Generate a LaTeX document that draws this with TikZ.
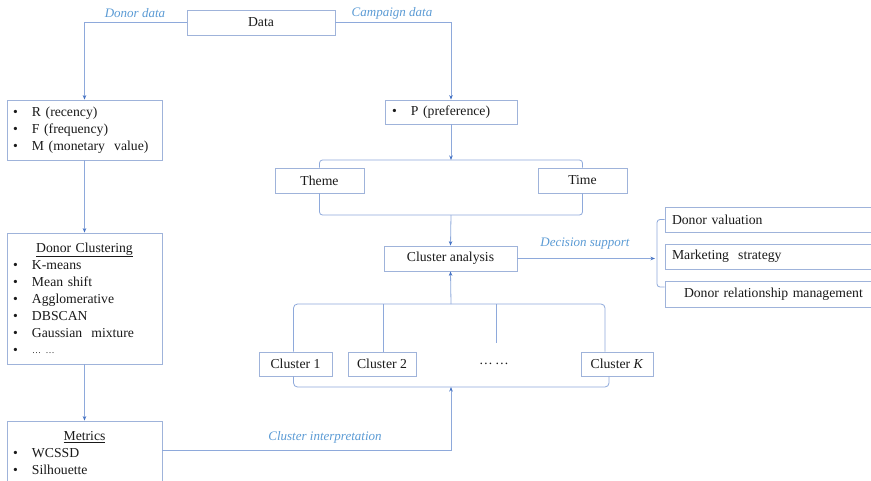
\documentclass[tikz,border=0pt]{standalone}
\usepackage{fontspec}
\setmainfont{Liberation Serif}
\usetikzlibrary{arrows.meta,calc}
\definecolor{ln}{HTML}{8EA9DB}
\definecolor{bx}{HTML}{9FB3DA}
\definecolor{lab}{HTML}{5B9BD5}
\definecolor{ah}{HTML}{4472C4}
\definecolor{tx}{HTML}{1A1A1A}
\newcommand{\bul}[1][19pt]{\makebox[#1][l]{\textbullet}}
\begin{document}
\begin{tikzpicture}[x=1pt,y=-1pt,
  font=\fontsize{13.7}{17}\selectfont,
  box/.style={draw=bx, line width=0.8pt, inner sep=0pt, text=tx},
  lbox/.style={box, align=left, inner xsep=6pt},
  conn/.style={draw=ln, line width=0.8pt},
  arr/.style={conn, -{Stealth[length=4.5pt,width=3.5pt,color=ah]}},
  lbl/.style={font=\fontsize{13}{15}\selectfont\itshape, text=lab, inner sep=1pt}]
\useasboundingbox (0,0) rectangle (871,480);
\fill[white] (0,0) rectangle (871,480);
\clip (0,0) rectangle (871,480);

% nodes
\node[box, minimum width=148pt, minimum height=25pt] (data) at (261,22.5) {Data};
\node[lbox, text width=143pt, minimum height=60pt] (rfm) at (84.5,130)
  {\bul R (recency)\\ \bul F (frequency)\\ \bul M (monetary\ \ value)};
\node[box, text width=118pt, align=left, inner xsep=7pt, minimum height=24pt] (pp) at (451,112)
  {\bul P (preference)};
\node[box, minimum width=89pt, minimum height=25pt] (theme) at (319.5,180.5) {Theme};
\node[box, minimum width=89pt, minimum height=25pt] (time) at (582.5,180.5) {Time};
\node[box, minimum width=133pt, minimum height=25pt] (ca) at (450.5,258.5) {Cluster analysis};
\node[lbox, text width=143pt, minimum height=131pt] (dc) at (84.5,298.5)
  {\makebox[143pt][c]{\underline{Donor Clustering}}\\ \bul K-means\\ \bul Mean shift\\ \bul Agglomerative\\ \bul DBSCAN\\ \bul Gaussian\ \ mixture\\ \bul \raisebox{1pt}{\small\dots\ \dots}};
\node[lbox, text width=143pt, minimum height=64pt] (met) at (84.5,453)
  {\makebox[143pt][c]{\underline{Metrics}}\\ \bul WCSSD\\ \bul Silhouette};
\node[box, text width=201pt, align=left, inner xsep=7pt, minimum height=25pt] (dv) at (772.5,219.5) {Donor valuation};
\node[box, text width=201pt, align=left, inner xsep=7pt, minimum height=25pt] (ms) at (772.5,256.5) {Marketing\ \ strategy};
\node[box, text width=201pt, align=left, inner xsep=7pt, minimum height=26pt] (drm) at (772.5,294) {\hspace*{12pt}Donor\ relationship\ management};
\node[box, minimum width=73pt, minimum height=24pt] (c1) at (295.5,364) {Cluster 1};
\node[box, minimum width=68pt, minimum height=24pt] (c2) at (382,364) {Cluster 2};
\node[inner sep=0pt, minimum height=24pt, text=tx] (dots) at (494,364) {\raisebox{1pt}{\dots\,\dots}};
\node[box, minimum width=72pt, minimum height=24pt] (ck) at (617,364) {Cluster \textit{K}};

% labels
\node[lbl] (l1) at (135,13) {Donor data};
\node[lbl] (l2) at (392,13) {Campaign data};
\node[lbl] (l3) at (585,244) {Decision support};
\node[lbl] (l4) at (325,437) {Cluster interpretation};

% connectors
\coordinate (tb) at (451,160);
\coordinate (bb) at (451,215);
\coordinate (ct) at (451,304);
\coordinate (cb) at (451,387);
\coordinate (br) at (657,258.5);

\draw[arr] (data.west) -| (rfm.north);
\draw[arr] (data.east) -| (pp.north);
\draw[conn, rounded corners=3pt] (theme.north) |- (tb) -| (time.north);
\draw[arr] (pp.south) -- (tb);
\draw[conn, rounded corners=3pt] (theme.south) |- (bb) -| (time.south);
\draw[arr] (bb) -- (ca.north);
\draw[conn, rounded corners=4pt] ([xshift=-2pt]c1.north) |- (ct) -| ([xshift=-12pt]ck.north);
\draw[conn] ([xshift=1pt]c2.north) -- ([xshift=1pt]c2.north |- ct);
\draw[conn] ([xshift=2pt,yshift=9pt]dots.north) -- ([xshift=2pt]dots.north |- ct);
\draw[arr] (ct) -- (ca.south);
\draw[conn, rounded corners=4pt] ([xshift=-2pt]c1.south) |- (cb) -| ([xshift=-8pt]ck.south);
\draw[arr] ([yshift=-30pt]met.north east) -| (cb);
\draw[arr] (rfm.south) -- (dc.north);
\draw[arr] (dc.south) -- (met.north);
\draw[arr] (ca.east) -- ([xshift=-2pt]br);
\draw[conn, rounded corners=3pt] (dv.west) -| (br) |- ([yshift=7pt]drm.west);
\end{tikzpicture}
\end{document}
